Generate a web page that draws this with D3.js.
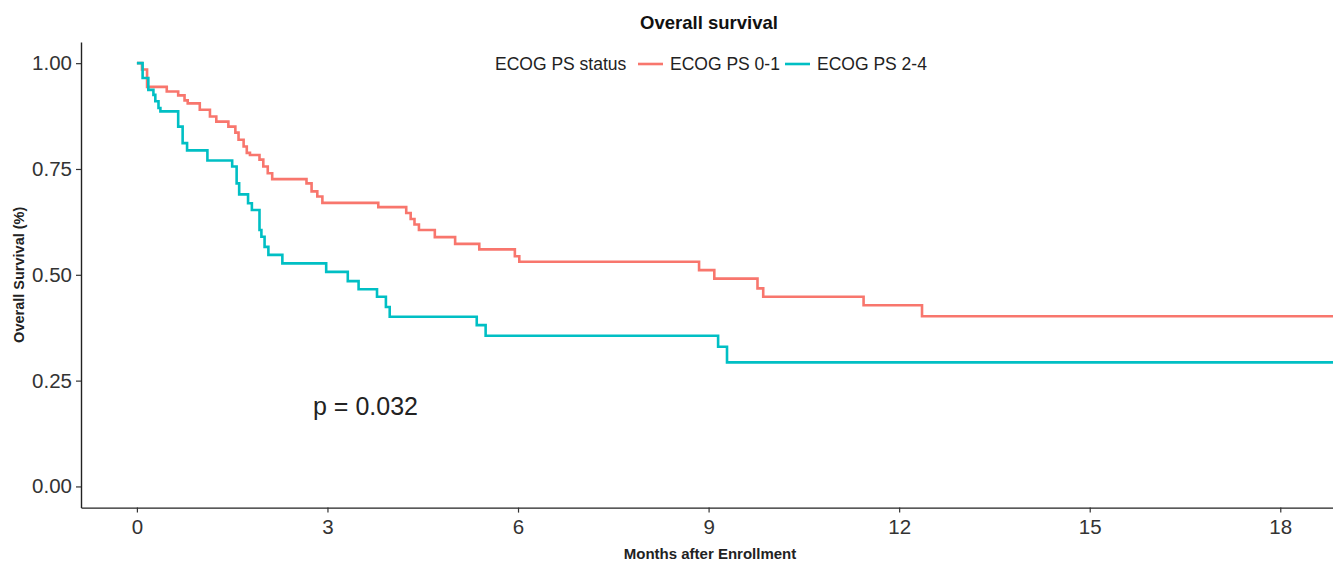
<!DOCTYPE html>
<html>
<head>
<meta charset="utf-8">
<script src="https://cdn.jsdelivr.net/npm/d3@7"></script>
<style>
  body { margin: 0; background: #fff; }
  text { font-family: "Liberation Sans", Arial, sans-serif; }
</style>
</head>
<body>
<script>
// KM curve, ECOG PS 0-1 (months, survival)
const monthsPS01 = [0, 0.08, 0.16, 0.47, 0.65, 0.75, 0.80, 0.99, 1.15, 1.25, 1.44, 1.55, 1.60, 1.68, 1.73, 1.78,
  1.93, 1.99, 2.06, 2.13, 2.67, 2.75, 2.84, 2.92, 3.80, 4.24, 4.31, 4.37, 4.44, 4.69, 5.01, 5.39, 5.95, 6.02,
  8.85, 9.09, 9.77, 9.86, 11.44, 12.36, 19];
const survivalPS01 = [1.0, 0.985, 0.944, 0.933, 0.924, 0.912, 0.905, 0.890, 0.874, 0.862, 0.850, 0.836, 0.819, 0.803, 0.788, 0.783,
  0.772, 0.756, 0.740, 0.726, 0.716, 0.697, 0.685, 0.670, 0.660, 0.646, 0.632, 0.619, 0.606, 0.589, 0.573, 0.560, 0.544, 0.531,
  0.511, 0.491, 0.468, 0.448, 0.428, 0.402, 0.402];

// KM curve, ECOG PS 2-4
const monthsPS24 = [0, 0.09, 0.18, 0.26, 0.29, 0.34, 0.37, 0.65, 0.72, 0.79, 1.11, 1.50, 1.57, 1.61, 1.75, 1.81,
  1.93, 1.96, 2.01, 2.07, 2.29, 2.98, 3.32, 3.49, 3.78, 3.92, 3.98, 5.35, 5.49, 9.15, 9.29, 19];
const survivalPS24 = [1.0, 0.965, 0.937, 0.925, 0.910, 0.894, 0.886, 0.850, 0.811, 0.794, 0.770, 0.756, 0.716, 0.690, 0.669, 0.653,
  0.606, 0.590, 0.566, 0.547, 0.527, 0.507, 0.485, 0.466, 0.448, 0.424, 0.401, 0.381, 0.356, 0.330, 0.293, 0.293];

const xTicks = [0, 3, 6, 9, 12, 15, 18];
const yTicks = [0, 0.25, 0.5, 0.75, 1.0];
const groupNames = ["ECOG PS 0-1", "ECOG PS 2-4"];
const groupColors = ["#F8766D", "#00BFC4"];

const width = 1333, height = 562;
const plotLeft = 81, plotRight = 1333, plotTop = 42, plotBottom = 507.6;

const svg = d3.select("body").append("svg")
  .attr("width", width)
  .attr("height", height);

const x = d3.scaleLinear().domain([-0.88, 18.83]).range([plotLeft, plotRight]);
const y = d3.scaleLinear().domain([-0.05, 1.05]).range([plotBottom, plotTop]);

svg.append("clipPath").attr("id", "plotclip")
  .append("rect")
  .attr("x", plotLeft).attr("y", 0)
  .attr("width", plotRight - plotLeft).attr("height", plotBottom);

const line = d3.line()
  .x(d => x(d[0]))
  .y(d => y(d[1]))
  .curve(d3.curveStepAfter);

const series = [
  d3.zip(monthsPS01, survivalPS01),
  d3.zip(monthsPS24, survivalPS24)
];

svg.selectAll(".km")
  .data(series)
  .enter()
  .append("path")
  .attr("class", "km")
  .attr("clip-path", "url(#plotclip)")
  .attr("d", line)
  .attr("fill", "none")
  .attr("stroke", (d, i) => groupColors[i])
  .attr("stroke-width", 2.6);

// axes
const xAxis = svg.append("g")
  .attr("transform", `translate(0,${plotBottom})`)
  .call(d3.axisBottom(x).tickValues(xTicks).tickSize(5).tickPadding(5).tickSizeOuter(0));
const yAxis = svg.append("g")
  .attr("transform", `translate(${plotLeft},0)`)
  .call(d3.axisLeft(y).tickValues(yTicks).tickFormat(d3.format(".2f")).tickSize(5).tickPadding(4).tickSizeOuter(0));

[xAxis, yAxis].forEach(g => {
  g.select(".domain").attr("stroke", "#222").attr("stroke-width", 1.4);
  g.selectAll(".tick line").attr("stroke", "#333").attr("stroke-width", 1.2);
  g.selectAll(".tick text")
    .attr("fill", "#333")
    .style("font-size", "20.5px")
    .style("font-family", "'Liberation Sans', Arial, sans-serif");
});
xAxis.selectAll(".tick text").attr("dy", "0.8em");

// titles
svg.append("text")
  .attr("x", 709).attr("y", 29)
  .attr("text-anchor", "middle")
  .style("font-size", "18.5px")
  .style("font-weight", "bold")
  .attr("fill", "#111")
  .text("Overall survival");

svg.append("text")
  .attr("x", 710).attr("y", 559)
  .attr("text-anchor", "middle")
  .style("font-size", "15px")
  .style("font-weight", "bold")
  .attr("fill", "#222")
  .text("Months after Enrollment");

svg.append("text")
  .attr("transform", `translate(24,${(plotTop + plotBottom) / 2}) rotate(-90)`)
  .attr("text-anchor", "middle")
  .style("font-size", "14.5px")
  .style("font-weight", "bold")
  .attr("fill", "#222")
  .text("Overall Survival (%)");

// p value
svg.append("text")
  .attr("x", 313).attr("y", 415)
  .style("font-size", "25px")
  .attr("fill", "#222")
  .text("p = 0.032");

// legend
const legend = svg.append("g").attr("transform", "translate(495,70)");
legend.append("text")
  .attr("x", 0).attr("y", 0)
  .style("font-size", "17.5px")
  .attr("fill", "#222")
  .text("ECOG PS status");
const legendX = [143, 290];
groupNames.forEach((name, i) => {
  legend.append("line")
    .attr("x1", legendX[i]).attr("x2", legendX[i] + 25)
    .attr("y1", -6).attr("y2", -6)
    .attr("stroke", groupColors[i])
    .attr("stroke-width", 2.6);
  legend.append("text")
    .attr("x", legendX[i] + 32).attr("y", 0)
    .style("font-size", "17.5px")
    .attr("fill", "#222")
    .text(name);
});
</script>
</body>
</html>
